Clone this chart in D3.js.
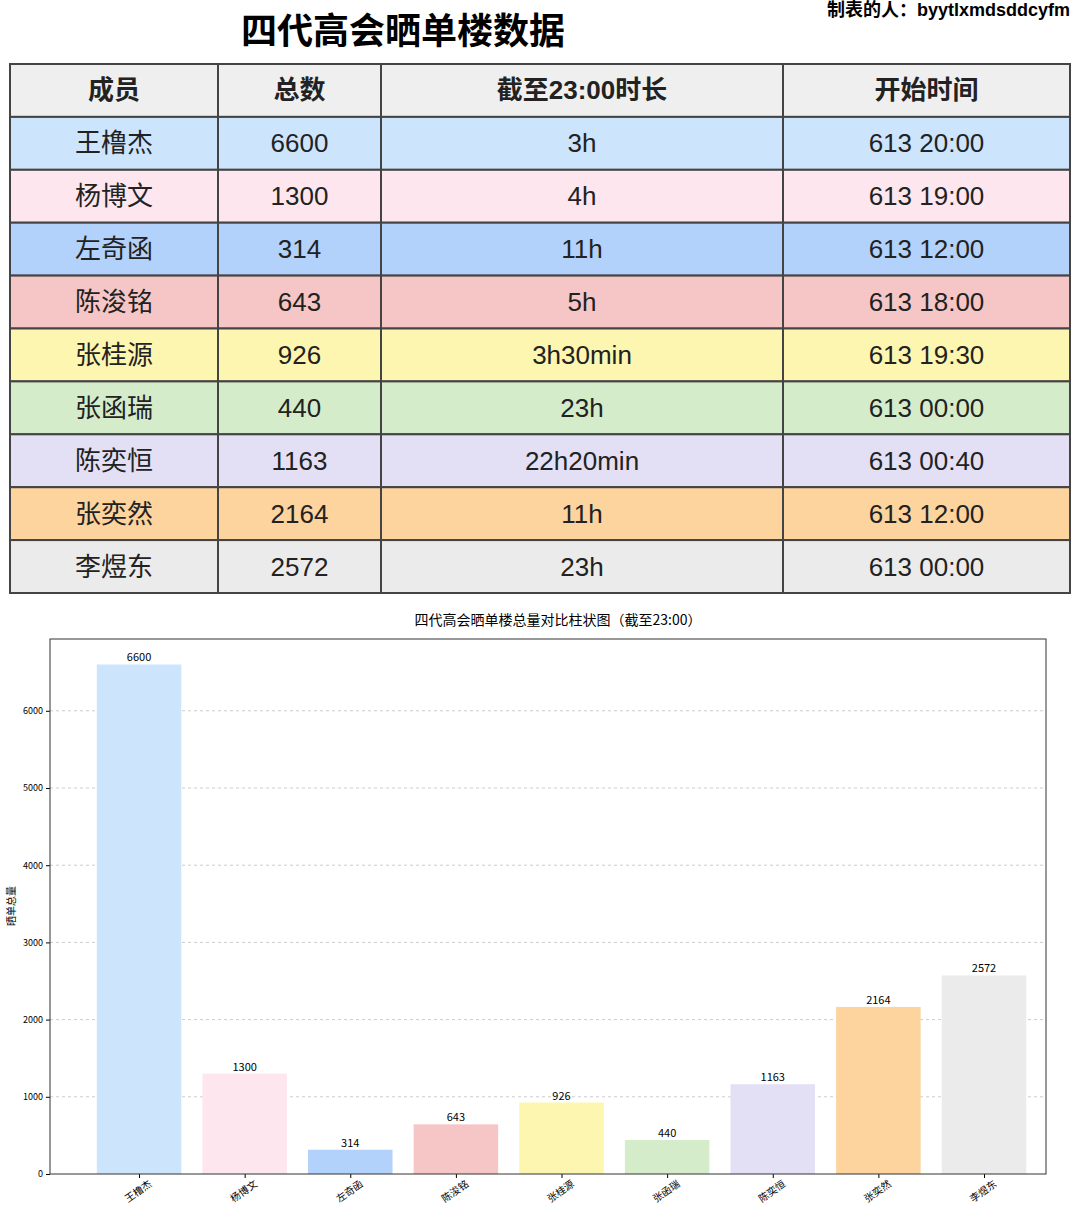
<!DOCTYPE html><html><head><meta charset="utf-8"><script src="https://cdn.jsdelivr.net/npm/d3@7"></script>
<style>body{margin:0;background:#fff;font-family:"Noto Sans CJK SC","Noto Sans",sans-serif}</style></head><body>
<svg id="c" width="1080" height="1211"></svg>
<script>
const members=["王橹杰","杨博文","左奇函","陈浚铭","张桂源","张函瑞","陈奕恒","张奕然","李煜东"];
const totals=[6600,1300,314,643,926,440,1163,2164,2572];
const durations=["3h","4h","11h","5h","3h30min","23h","22h20min","11h","23h"];
const starts=["613 20:00","613 19:00","613 12:00","613 18:00","613 19:30","613 00:00","613 00:40","613 12:00","613 00:00"];
const colors=["#cce5fd","#fde6ee","#b2d2fb","#f6c6c6","#fdf6b0","#d5ecca","#e3e0f5","#fdd39e","#ebebeb"];
const headers=["成员","总数","截至23:00时长","开始时间"];
const yTicks=[0,1000,2000,3000,4000,5000,6000];
const svg=d3.select("#c");
const F='"Noto Sans CJK SC",sans-serif';
const FT='"Liberation Sans","Noto Sans CJK SC",sans-serif';
svg.append("text").attr("x",403).attr("y",44).attr("text-anchor","middle").attr("font-size",36).attr("font-weight",700).attr("font-family",F).text("四代高会晒单楼数据");
svg.append("text").attr("x",1070).attr("y",16).attr("text-anchor","end").attr("font-size",18).attr("font-weight",700).attr("font-family",FT).text("制表的人：byytlxmdsddcyfm");
const cols=[10,218,381,783,1070];
const ty=d3.scaleLinear().domain([0,10]).range([64,593]);
const rows=[headers].concat(members.map((m,i)=>[m,String(totals[i]),durations[i],starts[i]]));
rows.forEach((r,ri)=>{
  const fill=ri===0?"#efefef":colors[ri-1];
  r.forEach((t,ci)=>{
    svg.append("rect").attr("x",cols[ci]).attr("y",ty(ri)).attr("width",cols[ci+1]-cols[ci]).attr("height",ty(ri+1)-ty(ri)).attr("fill",fill).attr("stroke","#444").attr("stroke-width",2);
    svg.append("text").attr("x",(cols[ci]+cols[ci+1])/2).attr("y",(ty(ri)+ty(ri+1))/2+9).attr("text-anchor","middle").attr("font-size",26).attr("font-weight",ri===0?700:400).attr("font-family",FT).attr("fill","#222").text(t);
  });
});
const L=50,R=1046,T=639,B=1174;
const x=d3.scaleLinear().domain([-0.843,8.587]).range([L,R]);
const y=d3.scaleLinear().domain([0,6930]).range([B,T]);
svg.append("text").attr("x",558).attr("y",625).attr("text-anchor","middle").attr("font-size",14).attr("font-family",F).text("四代高会晒单楼总量对比柱状图（截至23:00）");
const g=svg.append("g");
yTicks.forEach(t=>{ if(t>0) g.append("line").attr("x1",L).attr("x2",R).attr("y1",y(t)).attr("y2",y(t)).attr("stroke","#ccc").attr("stroke-dasharray","3,3");});
const bw=x(0.4)-x(-0.4);
members.forEach((m,i)=>{
  g.append("rect").attr("x",x(i)-bw/2).attr("y",y(totals[i])).attr("width",bw).attr("height",B-y(totals[i])).attr("fill",colors[i]);
  g.append("text").attr("x",x(i)).attr("y",y(totals[i])-3).attr("text-anchor","middle").attr("font-size",11).attr("font-family",F).text(totals[i]);
});
svg.append("g").attr("transform",`translate(${L},0)`).call(d3.axisLeft(y).tickValues(yTicks).tickSize(4).tickFormat(d3.format("d"))).call(s=>{s.selectAll("text").attr("font-size",9).attr("font-family",F);s.select(".domain").remove();});
const xa=svg.append("g").attr("transform",`translate(0,${B})`).call(d3.axisBottom(x).tickValues(d3.range(9)).tickSize(4).tickFormat(i=>members[i]));
xa.select(".domain").remove();
xa.selectAll("text").attr("font-size",10).attr("font-family",F).attr("text-anchor","end").attr("transform","rotate(-35)").attr("dx","4").attr("dy","10");
svg.append("rect").attr("x",L).attr("y",T).attr("width",R-L).attr("height",B-T).attr("fill","none").attr("stroke","#333");
svg.append("text").attr("transform","translate(15,906) rotate(-90)").attr("text-anchor","middle").attr("font-size",10).attr("font-family",F).text("晒单总量");
</script></body></html>
